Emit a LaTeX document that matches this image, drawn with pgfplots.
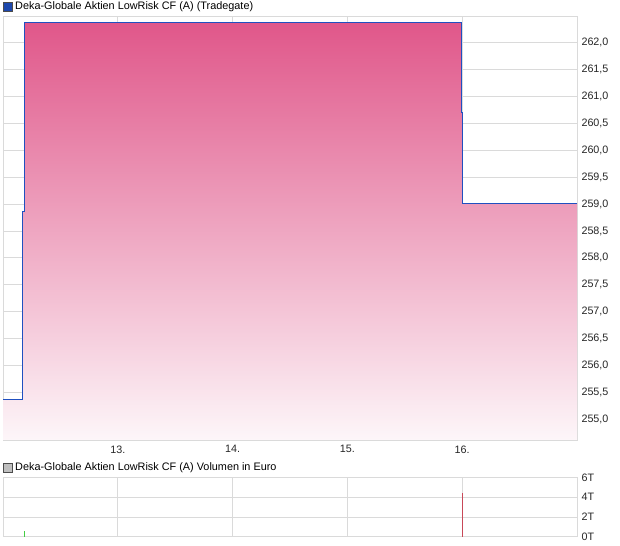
\documentclass[border=0pt]{standalone}
\usepackage{pgfplots}
\pgfplotsset{compat=1.18}
\usepackage{fontspec}
\setmainfont{Liberation Sans}
\definecolor{gridc}{HTML}{DADADA}
\definecolor{linec}{HTML}{2050C0}
\definecolor{fillTop}{HTML}{E0578A}
\definecolor{fillBot}{HTML}{FDF6F9}
\definecolor{volgreen}{HTML}{44CC44}
\definecolor{volred}{HTML}{C84858}
\begin{document}
\begin{tikzpicture}[x=1bp,y=1bp]
\path (0,0) rectangle (620,546);
% legend markers
\filldraw[draw=black!70, fill=linec!90!black, line width=0.5bp] (3.5,534.5) rectangle (12.5,543.5);
\node[anchor=west, inner sep=0pt, font=\fontsize{10.9}{13}\selectfont] at (15,539.5) {Deka-Globale Aktien LowRisk CF (A) (Tradegate)};
\filldraw[draw=black!70, fill=black!25, line width=0.5bp] (3.5,73.5) rectangle (12.5,82.5);
\node[anchor=west, inner sep=0pt, font=\fontsize{10.9}{13}\selectfont] at (15,78.5) {Deka-Globale Aktien LowRisk CF (A) Volumen in Euro};
\begin{axis}[at={(3bp,106bp)}, anchor=south west, scale only axis,
  width=574bp, height=424bp,
  xmin=12, xmax=17, ymin=254.61, ymax=262.5,
  xtick={13,14,15,16}, xticklabels={13.,14.,15.,16.},
  ytick={255,255.5,256,256.5,257,257.5,258,258.5,259,259.5,260,260.5,261,261.5,262},
  yticklabel pos=right,
  grid=major, major grid style={gridc, line width=0.8bp},
  axis line style={gridc, line width=0.8bp},
  tick style={draw=none},
  ticklabel style={font=\fontsize{10.8}{13}\selectfont, text=black!85},
  yticklabel style={xshift=1bp},
  xticklabel style={yshift=-2bp},
  /pgf/number format/.cd, fixed, fixed zerofill, precision=1, use comma, assume math mode=true, 1000 sep={}]
\addplot[draw=none, top color=fillTop, bottom color=fillBot] coordinates {
  (12,254.61) (12,255.37) (12.174,255.37) (12.174,258.87) (12.187,258.87)
  (12.187,262.37) (15.99,262.37) (15.99,260.7) (16.0,260.7) (16.0,259.02)
  (17,259.02) (17,254.61)} -- cycle;
\addplot[linec, const plot, line width=1bp, mark=none] coordinates {
  (12,255.37) (12.174,258.87) (12.187,262.37) (15.99,260.7) (16.0,259.02) (17,259.02)};
\end{axis}
\begin{axis}[at={(3bp,9.3bp)}, anchor=south west, scale only axis,
  width=574bp, height=59.3bp,
  xmin=12, xmax=17, ymin=0, ymax=6,
  xtick={13,14,15,16}, xticklabels={},
  ytick={0,2,4,6}, yticklabels={0T,2T,4T,6T},
  yticklabel pos=right,
  grid=major, major grid style={gridc, line width=0.8bp},
  axis line style={gridc, line width=0.8bp},
  tick style={draw=none},
  ticklabel style={font=\fontsize{10.8}{13}\selectfont, text=black!85},
  yticklabel style={xshift=1bp}]
\addplot[volgreen, ycomb, line width=0.8bp, mark=none] coordinates {(12.187,0.6)};
\addplot[volred, ycomb, line width=0.8bp, mark=none] coordinates {(16.0,4.47)};
\end{axis}
\end{tikzpicture}
\end{document}
